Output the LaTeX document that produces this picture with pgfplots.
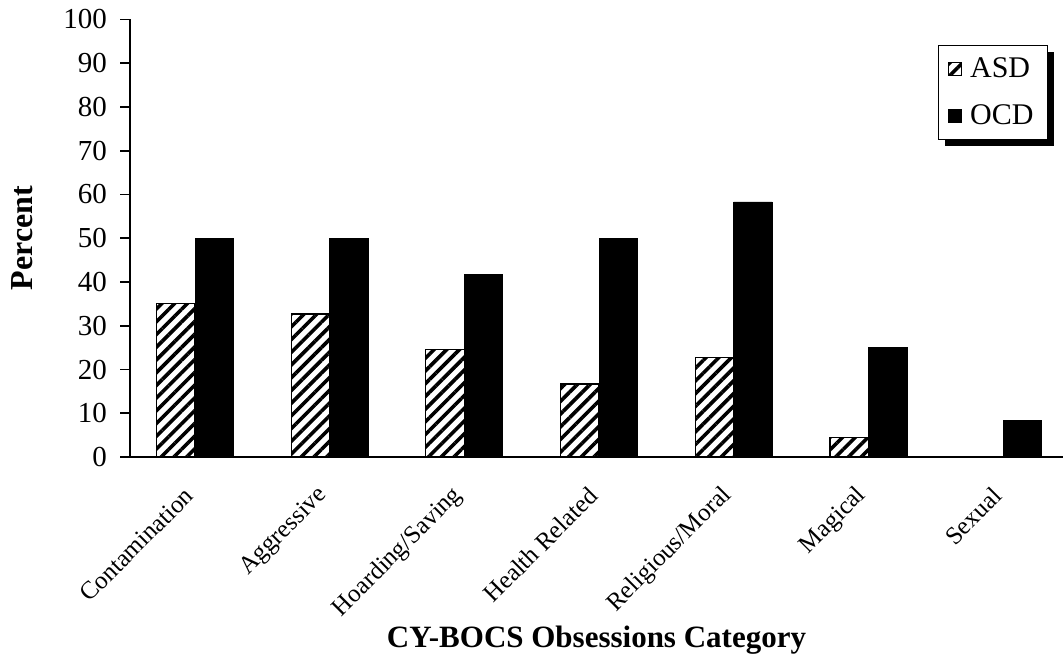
\documentclass[border=0pt]{standalone}
\usepackage{pgfplots}
\pgfplotsset{compat=1.18}
\usepackage{fontspec}
\setmainfont{Liberation Serif}
\usetikzlibrary{patterns.meta,shadows}
\makeatletter
\tikzset{clear preactions/.code={\let\tikz@preactions\pgfutil@empty}}
\makeatother
\begin{document}
\begin{tikzpicture}
\useasboundingbox (0,0) rectangle (531.5pt,334.5pt);
\begin{axis}[
  at={(65pt,106pt)}, anchor=south west,
  scale only axis, width=466.5pt, height=218.75pt,
  ybar=0pt, bar width=19.25pt,
  xmin=-0.483, xmax=6.445,
  ymin=0, ymax=100, ytick distance=10,
  axis x line=bottom, axis y line=left,
  axis line style={-, line width=0.9pt, black},
  xtick=data,
  xticklabels={Contamination,Aggressive,Hoarding/Saving,Health Related,Religious/Moral,Magical,Sexual},
  xtick style={draw=none},
  ytick style={line width=0.8pt, black},
  tick align=outside, major tick length=5pt,
  /pgf/number format/assume math mode=true,
  yticklabel style={font=\fontsize{14.5}{17}\selectfont, xshift=-3pt},
  xticklabel style={font=\fontsize{12.5}{15}\selectfont, xshift=-0.5pt, yshift=-10pt, rotate=45, anchor=east},
  xlabel={\textbf{CY-BOCS Obsessions Category}},
  xlabel style={font=\fontsize{15.5}{18}\selectfont, at={(rel axis cs:0.5,-0.418)}, anchor=center},
  ylabel={\textbf{Percent}},
  ylabel style={font=\fontsize{16}{19}\selectfont, at={(rel axis cs:-0.1158,0.5)}, anchor=center},
  legend style={at={(rel axis cs:0.984,0.942)}, anchor=north east,
    draw=black, line width=0.6pt, fill=white,
    drop shadow={shadow xshift=3.5pt, shadow yshift=-3.5pt, fill=black, opacity=1},
    font=\fontsize{15}{18}\selectfont, row sep=8pt, column sep=2pt, inner xsep=5pt, inner ysep=4pt,
    legend cell align=left},
  legend image code/.code={\draw[clear preactions, #1, line width=0.4pt] (0pt,-3.25pt) rectangle (6.5pt,3.25pt);},
]
\addplot[draw=black, line width=0.6pt, pattern={Lines[angle=45,distance=4.5pt,line width=1.8pt]}, pattern color=black]
  coordinates {(0,35) (1,32.7) (2,24.5) (3,16.7) (4,22.7) (5,4.4) (6,0)};
\addplot[draw=black, line width=0.4pt, fill=black]
  coordinates {(0,50) (1,50) (2,41.7) (3,50) (4,58.3) (5,25) (6,8.3)};
\legend{ASD,OCD}
\end{axis}
\end{tikzpicture}
\end{document}
